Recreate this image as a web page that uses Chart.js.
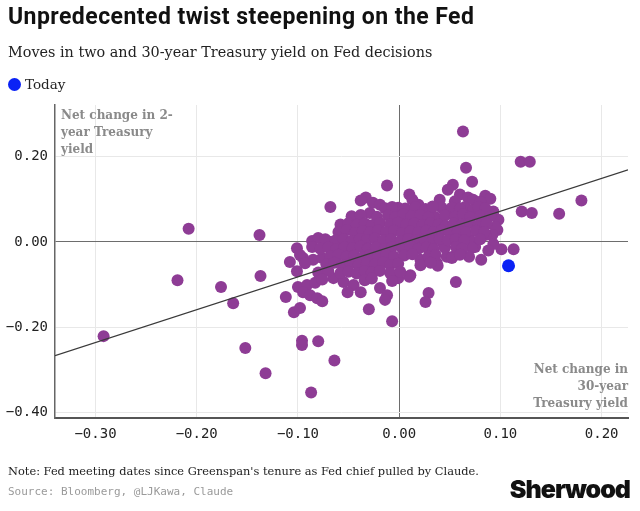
<!DOCTYPE html>
<html><head><meta charset="utf-8">
<script src="https://cdn.jsdelivr.net/npm/chart.js@4.4.1/dist/chart.umd.min.js"></script>
<style>
html,body{margin:0;padding:0;background:#fff;}
#wrap{position:relative;width:640px;height:511px;overflow:hidden;background:#fff;}
#c{position:absolute;left:0;top:0;}
.t{position:absolute;white-space:nowrap;}
#title{left:8px;top:3px;font-family:Roboto,sans-serif;font-weight:700;font-size:23px;color:#111;letter-spacing:0.45px;}
#sub{left:8px;top:44px;font-family:"DejaVu Serif",serif;font-size:14.4px;color:#222;}
#leg{left:8px;top:76px;font-family:"DejaVu Serif",serif;font-size:13.5px;color:#222;}
#leg span.dot{display:inline-block;width:13px;height:13px;border-radius:50%;background:#0a22f5;vertical-align:-2px;margin-right:4px;}
#yt{left:61px;top:107px;font-family:"DejaVu Serif",serif;font-weight:700;font-size:12px;line-height:17px;color:#8a8a8a;}
#xt{right:12px;top:361px;text-align:right;font-family:"DejaVu Serif",serif;font-weight:700;font-size:12px;line-height:17px;color:#8a8a8a;}
#note{left:8px;top:464px;font-family:"DejaVu Serif",serif;font-size:11.4px;color:#222;}
#src{left:8px;top:485px;font-family:"DejaVu Sans Mono",monospace;font-size:11px;color:#9a9a9a;}
#logo{right:10px;top:474px;font-family:Inter,Roboto,sans-serif;font-weight:900;font-size:25px;color:#111;letter-spacing:-1px;}
</style>
</head><body>
<div id="wrap">
<canvas id="c" width="640" height="511"></canvas>
<div class="t" id="title">Unpredecented twist steepening on the Fed</div>
<div class="t" id="sub">Moves in two and 30-year Treasury yield on Fed decisions</div>
<div class="t" id="leg"><span class="dot"></span>Today</div>
<div class="t" id="yt">Net change in 2-<br>year Treasury<br>yield</div>
<div class="t" id="xt">Net change in<br>30-year<br>Treasury yield</div>
<div class="t" id="note">Note: Fed meeting dates since Greenspan's tenure as Fed chief pulled by Claude.</div>
<div class="t" id="src">Source: Bloomberg, @LJKawa, Claude</div>
<div class="t" id="logo">Sherwood</div>
</div>
<script>
// [30-year change, 2-year change] per Fed decision
const fedMoves = [
 [-0.292,-0.221],[-0.208,0.031],[-0.219,-0.090],[-0.176,-0.106],[-0.164,-0.144],[-0.152,-0.249],
 [-0.132,-0.308],[-0.138,0.016],[-0.137,-0.080],[-0.112,-0.129],[-0.108,-0.047],[-0.104,-0.165],
 [-0.098,-0.155],[-0.096,-0.232],[-0.096,-0.242],[-0.080,-0.233],[-0.064,-0.278],[-0.087,-0.353],
 [-0.068,0.082],[-0.030,-0.158],[-0.007,-0.186],[-0.012,0.132],[0.063,0.259],[0.066,0.174],
 [0.120,0.188],[0.129,0.188],[0.121,0.071],[0.131,0.068],[0.158,0.066],[0.180,0.097],
 [0.101,-0.017],[0.113,-0.017],[0.081,-0.042],[0.056,-0.094],[0.029,-0.120],[0.026,-0.141],[0.011,-0.078],
 [-0.100,-0.106],[-0.091,-0.101],[-0.083,-0.096],[-0.095,-0.118],[-0.088,-0.125],[-0.081,-0.132],[-0.076,-0.139],
 [-0.095,-0.038],[-0.085,-0.042],[-0.076,-0.038],[-0.086,0.002],[-0.080,0.009],
 [-0.065,-0.085],[-0.055,-0.094],[-0.045,-0.101],[-0.038,-0.118],[-0.051,-0.118],
 [-0.019,-0.108],[-0.012,-0.125],[-0.014,-0.136],
 [-0.033,0.104],[-0.026,0.092],[-0.019,0.087],[-0.029,0.068],[-0.022,0.059],[-0.068,0.000],
 [0.072,0.141],[0.053,0.134],[0.048,0.122],[0.040,0.099],[0.010,0.111],[0.019,0.087],[0.013,0.099],
 [0.085,0.108],[0.090,0.101],[0.060,0.111],[0.068,0.104],[0.065,0.082],[0.073,0.071],
 [0.093,0.071],[0.098,0.052],[0.097,0.028],[-0.001,0.080],[0.042,0.080],[0.050,0.068],[0.035,0.059],
 [0.095,0.035],[0.092,0.016],[0.085,0.016],[0.070,0.005],[0.075,-0.012],
 [0.043,-0.002],[0.047,-0.035],[0.053,-0.035],[0.037,-0.049],[0.021,-0.042],
 [0.045,-0.014],[0.072,-0.014],[0.069,-0.035],[0.052,-0.038],[0.038,-0.056],[0.010,-0.082],[-0.001,-0.085],
 [0.073,0.099],[0.073,0.075],[0.093,-0.005],[0.088,-0.020],
 [-0.038,0.097],[0.055,0.095],[0.080,0.094],
 [-0.014,0.079],[-0.007,0.082],[0.006,0.078],[0.016,0.081],[0.026,0.077],[0.033,0.083],[0.052,0.080],[0.060,0.078],[0.078,0.082],[0.085,0.079],
 [-0.047,0.060],[-0.038,0.063],[-0.011,0.062],[-0.004,0.058],[0.004,0.064],[0.012,0.060],[0.021,0.063],[0.029,0.057],[0.045,0.062],[0.055,0.059],[0.063,0.064],[0.070,0.058],[0.080,0.061],[0.090,0.060],
 [-0.058,0.041],[-0.050,0.044],[-0.042,0.040],[-0.034,0.043],[-0.027,0.039],[-0.019,0.044],[-0.009,0.041],[-0.001,0.045],[0.007,0.040],[0.015,0.043],[0.023,0.039],[0.031,0.044],[0.039,0.041],[0.046,0.038],[0.054,0.043],[0.062,0.040],[0.070,0.044],[0.078,0.039],[0.086,0.042],
 [-0.060,0.023],[-0.052,0.027],[-0.044,0.021],[-0.036,0.025],[-0.029,0.022],[-0.021,0.027],[-0.013,0.023],[-0.005,0.026],[0.003,0.021],[0.011,0.025],[0.019,0.022],[0.027,0.026],[0.034,0.023],[0.042,0.027],[0.050,0.021],[0.058,0.025],[0.066,0.022],[0.076,0.026],[0.084,0.023],
 [-0.073,0.006],[-0.063,0.003],[-0.055,0.007],[-0.047,0.002],[-0.039,0.006],[-0.032,0.004],[-0.024,0.008],[-0.016,0.003],[-0.008,0.006],[0.001,0.002],[0.009,0.007],[0.017,0.004],[0.025,0.006],[0.033,0.002],[0.040,0.007],[0.048,0.004],[0.056,0.006],[0.064,0.003],[0.080,0.006],
 [-0.101,-0.015],[-0.086,-0.012],[-0.078,-0.016],[-0.070,-0.013],[-0.062,-0.017],[-0.054,-0.012],[-0.046,-0.015],[-0.038,-0.011],[-0.031,-0.016],[-0.023,-0.013],[-0.015,-0.017],[-0.007,-0.012],[0.003,-0.015],[0.011,-0.011],[0.019,-0.016],[0.027,-0.013],[0.034,-0.017],[0.056,-0.012],[0.062,-0.016],
 [-0.098,-0.031],[-0.068,-0.034],[-0.060,-0.030],[-0.052,-0.035],[-0.044,-0.032],[-0.036,-0.036],[-0.029,-0.031],[-0.021,-0.034],[-0.013,-0.030],[-0.005,-0.035],[0.005,-0.032],[0.013,-0.029],[0.029,-0.034],[0.036,-0.031],[0.060,-0.030],
 [-0.093,-0.050],[-0.072,-0.053],[-0.064,-0.049],[-0.056,-0.054],[-0.048,-0.051],[-0.040,-0.055],[-0.032,-0.050],[-0.024,-0.053],[-0.016,-0.048],[-0.009,-0.054],[-0.001,-0.051],[0.021,-0.055],[0.031,-0.049],
 [-0.101,-0.069],[-0.080,-0.072],[-0.070,-0.068],[-0.058,-0.073],[-0.050,-0.070],[-0.042,-0.074],[-0.034,-0.069],[-0.027,-0.072],[-0.019,-0.068],[-0.009,-0.073],[0.001,-0.070],
 [-0.076,-0.088],[-0.034,-0.090],[-0.027,-0.086],[-0.007,-0.092]
];
const todayMove = [[0.108,-0.056]];
const fitX = [-0.34, 0.226];
const fitY = [-0.267, 0.169];
const xTicks = [-0.3,-0.2,-0.1,0,0.1,0.2];
const yTicks = [-0.4,-0.2,0,0.2];
const xRange = [-0.34, 0.226];
const yRange = [-0.413, 0.321];

const fmt = v => { const s = Math.abs(v).toFixed(2); return (v < -1e-9 ? '\u2212' : '') + s; };
const toPts = arr => arr.map(([x,y]) => ({x, y}));
const tickFont = {family:'DejaVu Sans Mono', size:14};

new Chart(document.getElementById('c'), {
  type: 'scatter',
  data: { datasets: [
    { type:'line', data: fitX.map((x,i)=>({x, y:fitY[i]})), borderColor:'#3a3a3a', borderWidth:1.2, pointRadius:0, fill:false, order:0 },
    { data: toPts(todayMove), backgroundColor:'#0a22f5', pointRadius:6.5, borderWidth:0, order:1 },
    { data: toPts(fedMoves), backgroundColor:'#8e3c95', pointRadius:6, borderWidth:0, order:2 }
  ]},
  options: {
    responsive:false, animation:false, events:[],
    plugins:{ legend:{display:false}, tooltip:{enabled:false} },
    layout:{ padding:{ top:105, right:12, bottom:65, left:0 } },
    scales:{
      x:{ type:'linear', min:xRange[0], max:xRange[1],
        afterFit: s => { s.height = 28; },
        afterBuildTicks: s => { s.ticks = xTicks.map(v=>({value:v})); },
        grid:{ drawTicks:false, color: c => (c.tick && Math.abs(c.tick.value) < 1e-9) ? '#6d6d6d' : '#e8e8e8', lineWidth:1 },
        border:{ display:true, color:'#555', width:2 },
        ticks:{ padding:8, font:tickFont, color:'#222', callback: v => fmt(v), maxRotation:0 } },
      y:{ type:'linear', min:yRange[0], max:yRange[1],
        afterFit: s => { s.width = 55; },
        afterBuildTicks: s => { s.ticks = yTicks.map(v=>({value:v})); },
        grid:{ drawTicks:false, color: c => (c.tick && Math.abs(c.tick.value) < 1e-9) ? '#6d6d6d' : '#e8e8e8', lineWidth:1 },
        border:{ display:true, color:'#666', width:1.5 },
        ticks:{ padding:7, font:tickFont, color:'#222', callback: v => fmt(v) } }
    }
  }
});
</script>
</body></html>
